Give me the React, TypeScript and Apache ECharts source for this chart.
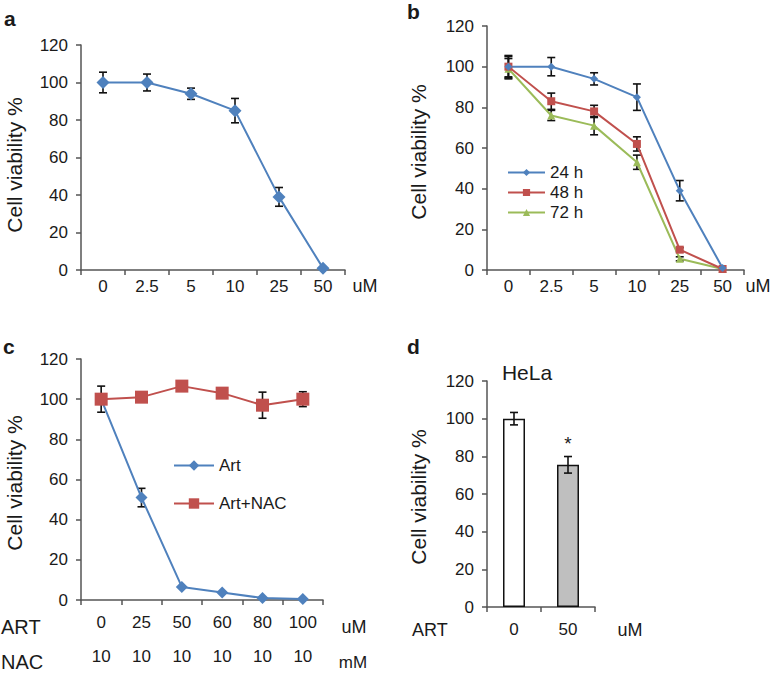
import React, { useEffect, useRef } from "react";
import * as echarts from "echarts";

const catsAB = ["0", "2.5", "5", "10", "25", "50"];
const valsA = [100, 100, 94, 85, 39, 1];
const errsA = [5.5, 4.5, 3, 6.5, 5, 0];

const vals24 = [100, 100, 94, 85, 39, 1];
const errs24 = [5.5, 4.5, 3, 6.5, 5, 0];
const vals48 = [100, 83, 78, 62, 10, 0.5];
const errs48 = [5, 4, 3, 3.5, 1, 0];
const vals72 = [99, 76, 71, 53, 5.5, 0.5];
const errs72 = [5, 2.5, 4.5, 3.5, 1, 0];

const artDoses = ["0", "25", "50", "60", "80", "100"];
const nacDoses = ["10", "10", "10", "10", "10", "10"];
const valsArt = [100, 51, 6.5, 3.7, 1, 0.5];
const errsArt = [0, 4.6, 0, 0, 0, 0];
const valsNac = [100, 101, 106.5, 103, 97, 100];
const errsNac = [6.5, 2, 1.5, 1.5, 6.5, 3.7];

const catsD = ["0", "50"];
const valsD = [100, 75.5];
const errsD = [3.3, 4.4];

const yTicks = { min: 0, max: 120, interval: 20 };

const BLUE = "#4F81BD";
const RED = "#C0504D";
const GREEN = "#9BBB59";
const TXT = "#1a1a1a";
const AX = "#555555";
const FONT = "Liberation Sans, Arial, sans-serif";
const FS = 17;

function errData(vals: number[], errs: number[]) {
  return vals.map((v, i) => [i, v - errs[i], v + errs[i], errs[i]]);
}

function errSeries(grid: number, vals: number[], errs: number[], cap: number, z: number) {
  return {
    type: "custom",
    xAxisIndex: grid,
    yAxisIndex: grid,
    z,
    silent: true,
    data: errData(vals, errs),
    renderItem: (params: any, api: any) => {
      if (api.value(3) <= 0) return null;
      const x = api.value(0);
      const lo = api.coord([x, api.value(1)]);
      const hi = api.coord([x, api.value(2)]);
      const h = cap / 2;
      const st = { stroke: "#111", lineWidth: 1.6 };
      return {
        type: "group",
        children: [
          { type: "line", shape: { x1: lo[0], y1: lo[1], x2: hi[0], y2: hi[1] }, style: st },
          { type: "line", shape: { x1: lo[0] - h, y1: lo[1], x2: lo[0] + h, y2: lo[1] }, style: st },
          { type: "line", shape: { x1: hi[0] - h, y1: hi[1], x2: hi[0] + h, y2: hi[1] }, style: st },
        ],
      };
    },
  };
}

function xAxis(grid: number, data: string[], extra: any = {}) {
  return {
    type: "category",
    gridIndex: grid,
    data,
    axisLine: { show: true, lineStyle: { color: AX, width: 1.5 } },
    axisTick: { show: true, length: 5, lineStyle: { color: AX, width: 1.5 } },
    axisLabel: { color: TXT, fontSize: FS, fontFamily: FONT, margin: 8, ...(extra.axisLabel || {}) },
    splitLine: { show: false },
  };
}

function yAxis(grid: number) {
  return {
    type: "value",
    gridIndex: grid,
    ...yTicks,
    axisLine: { show: true, lineStyle: { color: AX, width: 1.5 } },
    axisTick: { show: true, length: 5, lineStyle: { color: AX, width: 1.5 } },
    axisLabel: { color: TXT, fontSize: FS, fontFamily: FONT, margin: 13 },
    splitLine: { show: false },
  };
}

function txt(text: string, x: number, y: number, opts: any = {}) {
  return {
    type: "text",
    x,
    y,
    rotation: opts.rotation || 0,
    style: {
      text,
      fill: TXT,
      font: `${opts.weight || "normal"} ${opts.size || FS}px ${FONT}`,
      align: opts.align || "center",
      verticalAlign: "middle",
    },
  };
}

export default function App() {
  const ref = useRef<HTMLDivElement>(null);
  useEffect(() => {
    if (!ref.current) return;
    const chart = echarts.init(ref.current, undefined, { renderer: "svg" });
    const option: any = {
      animation: false,
      backgroundColor: "#ffffff",
      grid: [
        { left: 81, top: 45, width: 264, height: 225 },
        { left: 487, top: 26, width: 257, height: 244 },
        { left: 81, top: 359, width: 242, height: 246 },
        { left: 487, top: 381, width: 108, height: 226 },
      ],
      xAxis: [
        xAxis(0, catsAB),
        xAxis(1, catsAB),
        xAxis(2, artDoses.map((a, i) => a + "\n" + nacDoses[i]), {
          axisLabel: { lineHeight: 34, margin: 5 },
        }),
        xAxis(3, catsD, { axisLabel: { margin: 14 } }),
      ],
      yAxis: [yAxis(0), yAxis(1), yAxis(2), yAxis(3)],
      legend: [
        {
          orient: "vertical",
          left: 507,
          top: 164,
          padding: 0,
          itemWidth: 37,
          itemHeight: 9,
          itemGap: 3,
          data: ["24 h", "48 h", "72 h"],
          textStyle: { color: TXT, fontSize: FS, fontFamily: FONT },
        },
        {
          orient: "vertical",
          left: 173,
          top: 457,
          padding: 0,
          itemWidth: 40,
          itemHeight: 13,
          itemGap: 21,
          data: ["Art", "Art+NAC"],
          textStyle: { color: TXT, fontSize: FS, fontFamily: FONT },
        },
      ],
      series: [
        errSeries(0, valsA, errsA, 8, 1),
        {
          name: "a",
          type: "line",
          xAxisIndex: 0,
          yAxisIndex: 0,
          data: valsA,
          z: 3,
          symbol: "diamond",
          symbolSize: 13,
          lineStyle: { color: BLUE, width: 2 },
          itemStyle: { color: BLUE },
        },
        errSeries(1, vals72, errs72, 8, 1),
        errSeries(1, vals48, errs48, 8, 1),
        errSeries(1, vals24, errs24, 8, 1),
        {
          name: "72 h",
          type: "line",
          xAxisIndex: 1,
          yAxisIndex: 1,
          data: vals72,
          z: 3,
          symbol: "triangle",
          symbolSize: 8,
          lineStyle: { color: GREEN, width: 2 },
          itemStyle: { color: GREEN },
        },
        {
          name: "48 h",
          type: "line",
          xAxisIndex: 1,
          yAxisIndex: 1,
          data: vals48,
          z: 3,
          symbol: "rect",
          symbolSize: 8,
          lineStyle: { color: RED, width: 2 },
          itemStyle: { color: RED },
        },
        {
          name: "24 h",
          type: "line",
          xAxisIndex: 1,
          yAxisIndex: 1,
          data: vals24,
          z: 3,
          symbol: "diamond",
          symbolSize: 8,
          lineStyle: { color: BLUE, width: 2 },
          itemStyle: { color: BLUE },
        },
        errSeries(2, valsArt, errsArt, 8, 1),
        errSeries(2, valsNac, errsNac, 8, 1),
        {
          name: "Art",
          type: "line",
          xAxisIndex: 2,
          yAxisIndex: 2,
          data: valsArt,
          z: 3,
          symbol: "diamond",
          symbolSize: 12,
          lineStyle: { color: BLUE, width: 2 },
          itemStyle: { color: BLUE },
        },
        {
          name: "Art+NAC",
          type: "line",
          xAxisIndex: 2,
          yAxisIndex: 2,
          data: valsNac,
          z: 3,
          symbol: "rect",
          symbolSize: 13,
          lineStyle: { color: RED, width: 2 },
          itemStyle: { color: RED },
        },
        {
          name: "d",
          type: "bar",
          xAxisIndex: 3,
          yAxisIndex: 3,
          barWidth: 22,
          z: 2,
          data: valsD.map((v, i) => ({
            value: v,
            itemStyle: { color: i === 0 ? "#ffffff" : "#BFBFBF", borderColor: "#111", borderWidth: 1.5 },
          })),
          label: {
            show: true,
            position: "top",
            distance: 12,
            formatter: (p: any) => (p.dataIndex === 1 ? "*" : ""),
            color: TXT,
            fontSize: 19,
            fontFamily: FONT,
          },
        },
        errSeries(3, valsD, errsD, 8, 4),
      ],
      graphic: [
        txt("a", 4, 18, { weight: "bold", size: 21, align: "left" }),
        txt("b", 407, 11, { weight: "bold", size: 21, align: "left" }),
        txt("c", 3, 346, { weight: "bold", size: 21, align: "left" }),
        txt("d", 407, 346, { weight: "bold", size: 21, align: "left" }),
        txt("Cell viability %", 14, 165, { size: 21, rotation: Math.PI / 2 }),
        txt("Cell viability %", 418, 152, { size: 21, rotation: Math.PI / 2 }),
        txt("Cell viability %", 14, 483, { size: 21, rotation: Math.PI / 2 }),
        txt("Cell viability %", 418, 497, { size: 21, rotation: Math.PI / 2 }),
        txt("uM", 365, 286, { size: 18 }),
        txt("uM", 758, 286, { size: 18 }),
        txt("ART", 1, 627, { size: 20, align: "left" }),
        txt("NAC", 1, 662, { size: 20, align: "left" }),
        txt("uM", 354, 627, { size: 18 }),
        txt("mM", 353, 662, { size: 17 }),
        txt("ART", 412, 630, { size: 18, align: "left" }),
        txt("uM", 630, 630, { size: 18 }),
        txt("HeLa", 527, 372, { size: 21 }),
      ],
    };
    chart.setOption(option);
    return () => chart.dispose();
  }, []);
  return (
    <div
      ref={ref}
      style={{ position: "fixed", left: 0, top: 0, width: 774, height: 673, background: "#fff" }}
    />
  );
}
